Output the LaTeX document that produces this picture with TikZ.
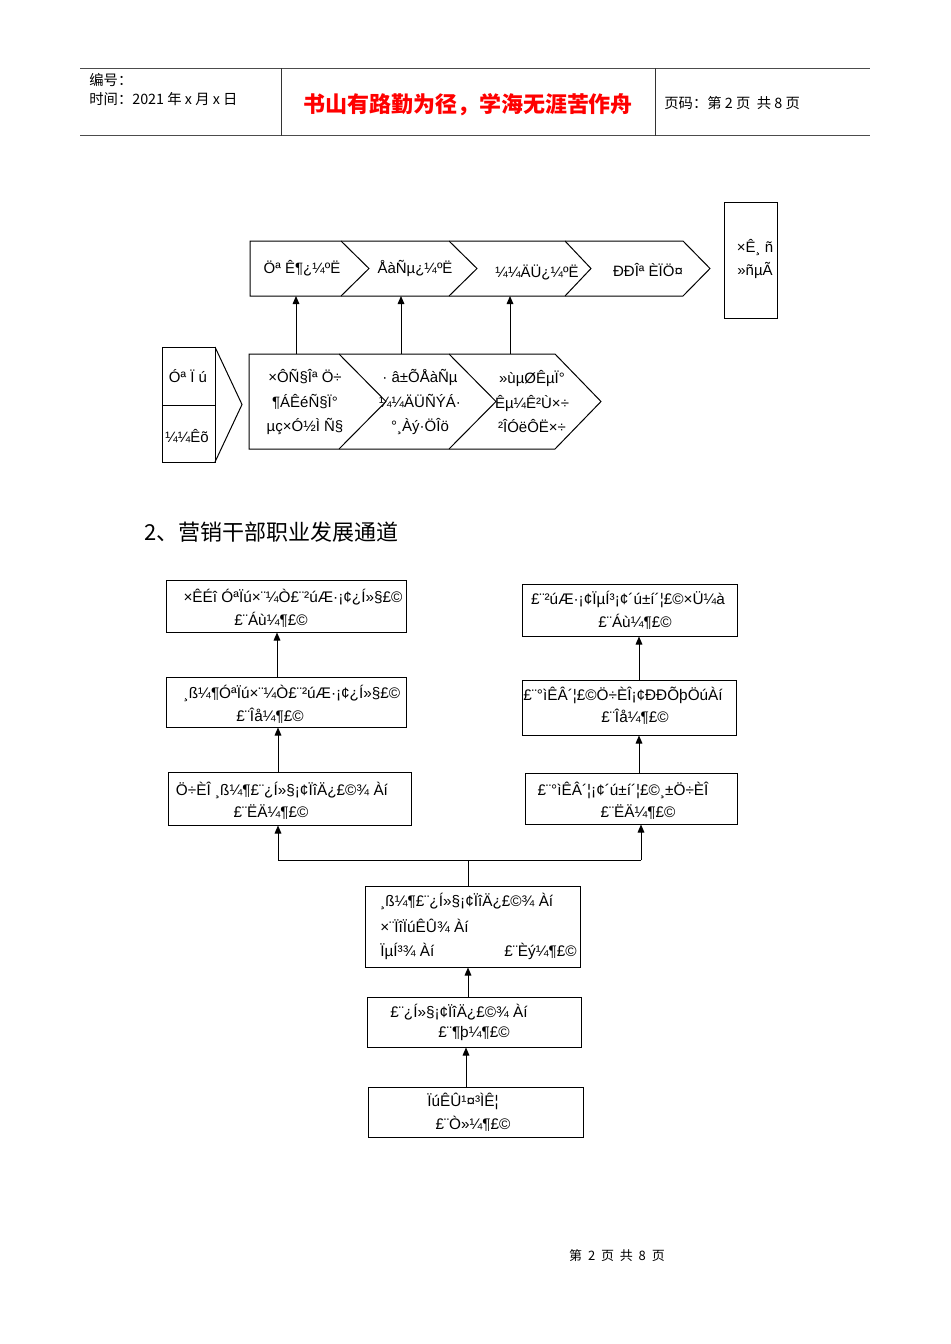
\documentclass[tikz,border=0pt]{standalone}
\usepackage{fontspec}
\setmainfont{Liberation Sans}
\newfontfamily\cjk{Noto Sans CJK SC}
\usetikzlibrary{arrows.meta}
\tikzset{
  ln/.style={draw=black, line width=0.6pt},
  arr/.style={draw=black, line width=0.6pt, -{Triangle[length=4.8pt,width=4pt]}},
  txt/.style={inner sep=0pt, font=\fontsize{9}{14.4}\selectfont, align=center},
  btxt/.style={inner sep=0pt, font=\fontsize{9.2}{13}\selectfont},
  boxn/.style={draw=black, line width=0.6pt, inner sep=0pt},
  hdr/.style={inner sep=0pt, font=\cjk\fontsize{8.6}{11}\selectfont, anchor=west}
}
\begin{document}
\begin{tikzpicture}[x=0.6pt,y=-0.6pt]
\useasboundingbox (0,0) rectangle (950,1344);
% header
\draw[draw=black!70, line width=0.6pt] (80,68) -- (870,68);
\draw[draw=black!70, line width=0.6pt] (80,135.5) -- (870,135.5);
\draw[draw=black!80, line width=0.6pt] (281,68) -- (281,135.5);
\draw[draw=black!80, line width=0.6pt] (655,68) -- (655,135.5);
\node[hdr] (h1) at (89,80) {编号：};
\node[hdr] (h2) at (89,99) {时间：2021 年 x 月 x 日};
\node[inner sep=0pt, font=\cjk\fontsize{13.2}{15}\selectfont\bfseries, text=red] (h3) at (468,105) {书山有路勤为径，学海无涯苦作舟};
\node[hdr] (h4) at (664,103) {页码：第 2 页\ \ 共 8 页};

% top chevron row
\draw[ln] (250,241) -- (341,241) -- (369,268.5) -- (341,296) -- (250,296) -- cycle;
\draw[ln] (341,241) -- (449,241) -- (477,268.5) -- (449,296) -- (341,296);
\draw[ln] (449,241) -- (565,241) -- (591,268.5) -- (565,296) -- (449,296);
\draw[ln] (565,241) -- (683,241) -- (710,268.5) -- (683,296) -- (565,296);
\node[txt] (t1) at (302,268) {Öª Ê¶¿¼ºË};
\node[txt] (t2) at (415,268) {ÅàÑµ¿¼ºË};
\node[txt] (t3) at (537,272) {¼¼ÄÜ¿¼ºË};
\node[txt] (t4) at (648,270) {ÐÐÎª ÈÏÖ¤};
% right box
\node[boxn, minimum width=53*0.6pt, minimum height=116*0.6pt] (rb) at (750.5,260) {};
\node[txt, font=\fontsize{9}{13.8}\selectfont] (rt) at (755,258.5) {×Ê¸ ñ\\»ñµÃ};

% left box
\draw[ln] (162,347) rectangle (215,462);
\draw[ln] (162,405) -- (215,405);
\draw[ln] (215,347) -- (242,404.5) -- (215,462);
\node[txt] (lb1) at (188,376) {Óª Ï ú};
\node[txt] (lb2) at (187,436) {¼¼Êõ};

% lower chevron row
\draw[ln] (249,354) -- (339,354) -- (386,401.5) -- (339,449) -- (249,449) -- cycle;
\draw[ln] (339,354) -- (449,354) -- (496,401.5) -- (449,449) -- (339,449);
\draw[ln] (449,354) -- (555,354) -- (601,401.5) -- (555,449) -- (449,449);
\node[txt, font=\fontsize{9}{14.7}\selectfont] (c1) at (305,402) {×ÔÑ§Îª Ö÷\\¶ÁÊéÑ§Ï°\\µç×Ó½Ì Ñ§};
\node[txt, font=\fontsize{9}{14.7}\selectfont] (c2) at (420,402) {· â±ÕÅàÑµ\\¼¼ÄÜÑÝÁ·\\°¸Àý·ÖÎö};
\node[txt, font=\fontsize{9}{14.7}\selectfont] (c3) at (532,402) {»ùµØÊµÏ°\\Êµ¼Ê²Ù×÷\\²ÎÓëÔË×÷};
\coordinate (u1) at (296,354); \coordinate (v1) at (296,296);
\coordinate (u2) at (401,354); \coordinate (v2) at (401,296);
\coordinate (u3) at (510,354); \coordinate (v3) at (510,296);
\draw[arr] (u1) -- (v1);
\draw[arr] (u2) -- (v2);
\draw[arr] (u3) -- (v3);

% heading
\node[inner sep=0pt, anchor=west, font=\cjk\fontsize{13.2}{15}\selectfont] (hd) at (144,532) {2、营销干部职业发展通道};

% career boxes
\node[boxn, minimum width=240*0.6pt, minimum height=52*0.6pt] (A) at (286,606) {};
\node[boxn, minimum width=215*0.6pt, minimum height=52*0.6pt] (B) at (629.5,610) {};
\node[boxn, minimum width=240*0.6pt, minimum height=50*0.6pt] (C) at (286,702) {};
\node[boxn, minimum width=214*0.6pt, minimum height=55*0.6pt] (D) at (629,707.5) {};
\node[boxn, minimum width=243*0.6pt, minimum height=53*0.6pt] (E) at (289.5,798.5) {};
\node[boxn, minimum width=212*0.6pt, minimum height=51*0.6pt] (F) at (631,798.5) {};
\node[boxn, minimum width=215*0.6pt, minimum height=81*0.6pt] (G) at (472.5,926.5) {};
\node[boxn, minimum width=214*0.6pt, minimum height=50*0.6pt] (H) at (474,1022) {};
\node[boxn, minimum width=215*0.6pt, minimum height=50*0.6pt] (I) at (475.5,1112) {};

\node[btxt] (a1) at (293,597) {×ÊÉî ÓªÏú×¨¼Ò£¨²úÆ·¡¢¿Í»§£©};
\node[btxt] (a2) at (271,620) {£¨Áù¼¶£©};
\node[btxt] (b1) at (628,599) {£¨²úÆ·¡¢ÏµÍ³¡¢´ú±í´¦£©×Ü¼à};
\node[btxt] (b2) at (635,622) {£¨Áù¼¶£©};
\node[btxt] (c1t) at (292,693) {¸ß¼¶ÓªÏú×¨¼Ò£¨²úÆ·¡¢¿Í»§£©};
\node[btxt] (c2t) at (270,716) {£¨Îå¼¶£©};
\node[btxt] (d1) at (623,695) {£¨°ìÊÂ´¦£©Ö÷ÈÎ¡¢ÐÐÕþÖúÀí};
\node[btxt] (d2) at (635,717) {£¨Îå¼¶£©};
\node[btxt] (e1) at (282,790) {Ö÷ÈÎ ¸ß¼¶£¨¿Í»§¡¢ÏîÄ¿£©¾ Àí};
\node[btxt] (e2) at (271,812) {£¨ËÄ¼¶£©};
\node[btxt] (f1) at (623,790) {£¨°ìÊÂ´¦¡¢´ú±í´¦£©¸±Ö÷ÈÎ};
\node[btxt] (f2) at (638,812) {£¨ËÄ¼¶£©};
\node[btxt, anchor=west] (g1) at (380,901) {¸ß¼¶£¨¿Í»§¡¢ÏîÄ¿£©¾ Àí};
\node[btxt, anchor=west] (g2) at (380,926) {×¨ÏîÏúÊÛ¾ Àí};
\node[btxt, anchor=west] (g3) at (380,951) {ÏµÍ³¾ Àí};
\node[btxt, anchor=east] (g4) at (577,951) {£¨Èý¼¶£©};
\node[btxt] (h1t) at (459,1012) {£¨¿Í»§¡¢ÏîÄ¿£©¾ Àí};
\node[btxt] (h2t) at (474,1034) {£¨¶þ¼¶£©};
\node[btxt] (i1) at (463,1101) {ÏúÊÛ¹¤³ÌÊ¦};
\node[btxt] (i2) at (473,1124) {£¨Ò»¼¶£©};

% connectors
\draw[arr] (I.north -| 466,0) -- (H.south -| 466,0);
\draw[arr] (H.north -| 468,0) -- (G.south -| 468,0);
\coordinate (br) at (468,860);
\draw[ln] (G.north -| 468,0) -- (br);
\draw[ln] (278,860) -- (641,860);
\draw[arr] (278,860) -- (E.south -| 278,0);
\draw[arr] (641,860) -- (F.south -| 641,0);
\draw[arr] (E.north -| 278,0) -- (C.south -| 278,0);
\draw[arr] (C.north -| 277,0) -- (A.south -| 277,0);
\draw[arr] (F.north -| 639,0) -- (D.south -| 639,0);
\draw[arr] (D.north -| 639,0) -- (B.south -| 639,0);

% footer
\node[inner sep=0pt, font=\cjk\fontsize{7.8}{9}\selectfont] (ft) at (617,1256) {第\ \ 2\ \ 页\ \ 共\ \ 8\ \ 页};
\end{tikzpicture}
\end{document}
